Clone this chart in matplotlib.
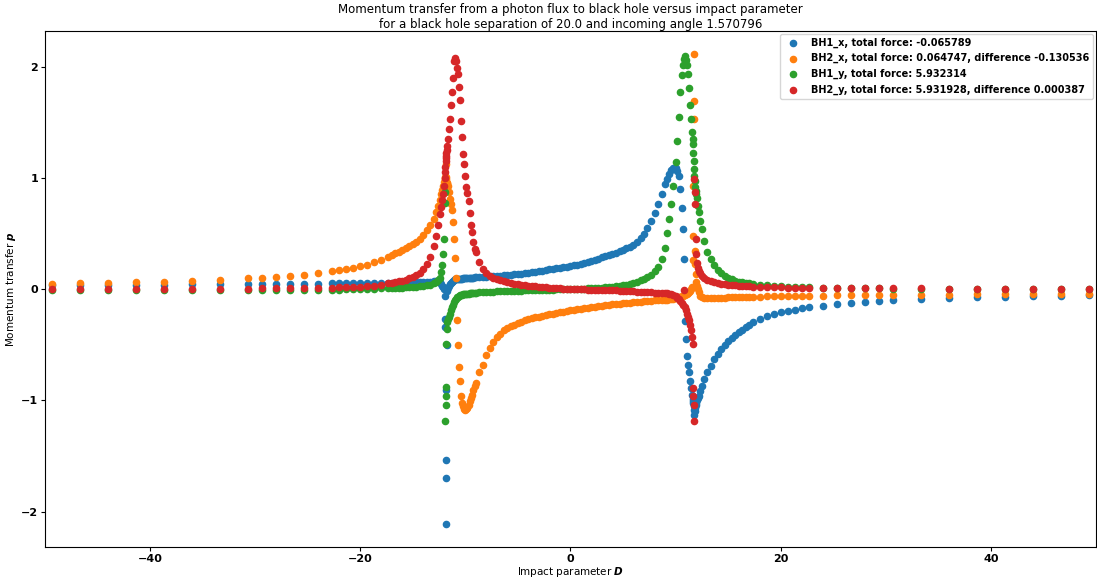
import numpy as np
import matplotlib
matplotlib.use("Agg")
import matplotlib.pyplot as plt

# impact parameters, coarse far away and refined around the two holes
d_outer_left = [-49.33, -46.67, -44.0, -41.33, -38.67, -36.0, -33.33, -30.67, -29.33, -28.0, -26.67,
                -25.33, -24.0, -22.67, -22.0, -21.33, -20.67, -20.0, -19.33, -18.67, -18.0]
d_near_left = [-17.33, -17.0, -16.67, -16.33, -16.0, -15.67, -15.33, -15.0, -14.67, -14.33, -14.0,
               -13.67, -13.33, -13.0]
d_spike_left = [-12.8, -12.6, -12.45, -12.3, -12.2, -12.1, -12.02, -11.96, -11.92, -11.89, -11.87,
                -11.85, -11.83, -11.81, -11.78, -11.74, -11.68, -11.6, -11.5, -11.4, -11.3, -11.2,
                -11.1, -11.0, -10.9, -10.8, -10.7, -10.6, -10.5, -10.4]
d_middle = [-10.3, -10.2, -10.1, -10.0, -9.9, -9.8, -9.7, -9.6, -9.5, -9.4, -9.25, -9.1, -9.0,
            -8.67, -8.33, -8.0, -7.67, -7.33, -7.0, -6.67,
            -6.33, -6.0, -5.67, -5.33, -5.0, -4.67, -4.33, -4.0, -3.67, -3.33, -3.0, -2.67, -2.33,
            -2.0, -1.67, -1.33, -1.0, -0.67, -0.33, 0.0, 0.33, 0.67, 1.0, 1.33, 1.67, 2.0, 2.33,
            2.67, 3.0, 3.33, 3.67, 4.0, 4.33, 4.67, 5.0, 5.33, 5.67, 6.0, 6.33, 6.67, 7.0, 7.33,
            7.67, 8.0, 8.33, 8.67, 9.0]
d_spike_right = [9.2, 9.4, 9.6, 9.8, 10.0, 10.15, 10.3, 10.45, 10.6, 10.7, 10.8, 10.9, 11.0, 11.1,
                 11.2, 11.3, 11.4, 11.5, 11.56, 11.62, 11.66, 11.7, 11.73, 11.76, 11.79, 11.82,
                 11.86, 11.9, 11.95, 12.0, 12.1, 12.2, 12.35, 12.5, 12.7]
d_near_right = [13.0, 13.33, 13.67, 14.0, 14.33, 14.67, 15.0, 15.33, 15.67, 16.0, 16.33, 16.67, 17.0]
d_outer_right = [17.33, 18.0, 18.67, 19.33, 20.0, 20.67, 21.33, 22.0, 22.67, 24.0, 25.33, 26.67,
                 28.0, 29.33, 30.67, 33.33, 36.0, 38.67, 41.33, 44.0, 46.67, 49.33]

D = np.array(d_outer_left + d_near_left + d_spike_left + d_middle
             + d_spike_right + d_near_right + d_outer_right)

bh1_x = [
    0.036, 0.037, 0.038, 0.039, 0.040, 0.041, 0.042, 0.044, 0.045, 0.046, 0.047, 0.048, 0.049,
    0.050, 0.051, 0.051, 0.052, 0.053, 0.054, 0.055, 0.056,
    0.056, 0.057, 0.057, 0.058, 0.058, 0.059, 0.060, 0.060, 0.061, 0.062, 0.063, 0.064, 0.066, 0.068,
    0.070, 0.070, 0.062, 0.045, 0.030, 0.015, 0.000, -0.066, -0.270, -0.345, -0.910, -1.540,
    -2.110, -1.700, -0.500, -0.020, 0.010, 0.030, 0.045, 0.055, 0.065, 0.074, 0.082, 0.086,
    0.088, 0.089, 0.090, 0.091, 0.092, 0.093,
    0.094, 0.095, 0.096, 0.097, 0.098, 0.099, 0.100, 0.100, 0.101, 0.102, 0.103, 0.104, 0.105,
    0.107, 0.109, 0.111, 0.113, 0.116, 0.119, 0.121,
    0.124, 0.126, 0.129, 0.132, 0.135, 0.139, 0.143, 0.147, 0.151, 0.156, 0.161, 0.166, 0.171,
    0.176, 0.181, 0.186, 0.191, 0.196, 0.201, 0.206, 0.212, 0.219, 0.226, 0.234, 0.243, 0.252,
    0.262, 0.273, 0.284, 0.296, 0.306, 0.316, 0.328, 0.340, 0.352, 0.365, 0.380, 0.400, 0.425,
    0.455, 0.495, 0.545, 0.610, 0.680, 0.760, 0.850, 0.940,
    0.990, 1.035, 1.070, 1.090, 1.085, 1.065, 1.020, 0.900, 0.730, 0.540, 0.270, -0.285, -0.450,
    -0.600, -0.680, -0.750, -0.826, -0.886, -0.955, -0.985, -1.005, -1.020, -1.050, -1.090,
    -1.130, -1.100, -1.070, -1.045, -1.020, -1.000, -0.980, -0.960, -0.915, -0.870, -0.810,
    -0.750, -0.690, -0.630, -0.580, -0.540, -0.500, -0.470, -0.440, -0.415, -0.390, -0.365,
    -0.345, -0.320,
    -0.295, -0.270, -0.246, -0.225, -0.210, -0.198, -0.186, -0.174, -0.165, -0.150, -0.135,
    -0.126, -0.114, -0.108, -0.100, -0.090, -0.080, -0.075, -0.069, -0.065, -0.060, -0.055,
]

bh2_x = [
    0.045, 0.051, 0.054, 0.060, 0.066, 0.075, 0.084, 0.096, 0.102, 0.108, 0.117, 0.129, 0.147,
    0.165, 0.171, 0.180, 0.189, 0.204, 0.219, 0.240, 0.261,
    0.291, 0.305, 0.320, 0.335, 0.350, 0.368, 0.385, 0.405, 0.425, 0.450, 0.485, 0.530, 0.575, 0.630,
    0.690, 0.750, 0.800, 0.850, 0.890, 0.930, 0.965, 0.985, 0.995, 1.005, 1.120, 1.010, 0.990,
    0.970, 0.950, 0.950, 0.930, 0.870, 0.810, 0.760, 0.710, 0.600, 0.450, 0.280, 0.100, -0.280,
    -0.500, -0.700, -0.830, -0.960,
    -1.020, -1.055, -1.075, -1.085, -1.080, -1.065, -1.040, -1.010, -0.980, -0.950, -0.910,
    -0.870, -0.840, -0.750, -0.680, -0.590, -0.530, -0.480, -0.430, -0.400,
    -0.370, -0.350, -0.335, -0.320, -0.305, -0.293, -0.282, -0.272, -0.263,
    -0.255, -0.247, -0.240, -0.233, -0.226, -0.220, -0.214, -0.208, -0.202, -0.196, -0.190,
    -0.185, -0.180, -0.175, -0.170, -0.166, -0.162, -0.158, -0.154, -0.150, -0.146, -0.142,
    -0.138, -0.135, -0.132, -0.129, -0.126, -0.123, -0.120, -0.117, -0.114, -0.111, -0.108,
    -0.105, -0.102, -0.100, -0.098, -0.096,
    -0.094, -0.092, -0.089, -0.085, -0.081, -0.078, -0.075, -0.071, -0.066, -0.062, -0.057,
    -0.052, -0.047, -0.042, -0.036, -0.027, -0.015, 0.000, 0.015, 0.260, 0.480, 0.930, 1.530,
    2.110, 1.690, 0.345, 0.225, 0.135, 0.060, 0.030, 0.000, -0.030, -0.060, -0.075, -0.080,
    -0.080, -0.080, -0.079, -0.078, -0.077, -0.076, -0.075, -0.074, -0.073, -0.072, -0.071,
    -0.070, -0.069,
    -0.068, -0.067, -0.066, -0.065, -0.064, -0.063, -0.062, -0.061, -0.060, -0.058, -0.057,
    -0.056, -0.055, -0.054, -0.053, -0.051, -0.050, -0.048, -0.047, -0.046, -0.045, -0.044,
]

bh1_y = [
    -0.006, -0.006, -0.006, -0.006, -0.006, -0.006, -0.006, -0.006, -0.006, -0.006, -0.006,
    -0.006, -0.005, -0.005, -0.005, -0.004, -0.003, -0.002, 0.000, 0.002, 0.005,
    0.008, 0.010, 0.011, 0.012, 0.013, 0.014, 0.016, 0.018, 0.020, 0.023, 0.027, 0.032, 0.040, 0.050,
    0.062, 0.080, 0.100, 0.150, 0.220, 0.315, 0.450, 0.770, 0.870, -1.186, -1.045, -0.960,
    -0.877, -0.495, -0.360, -0.300, -0.270, -0.255, -0.220, -0.190, -0.160, -0.140, -0.120,
    -0.100, -0.087, -0.075, -0.067, -0.060, -0.055, -0.052,
    -0.050, -0.048, -0.047, -0.045, -0.044, -0.043, -0.042, -0.040, -0.039, -0.038, -0.036,
    -0.035, -0.034, -0.031, -0.029, -0.027, -0.025, -0.023, -0.021, -0.020,
    -0.019, -0.018, -0.017, -0.016, -0.015, -0.014, -0.013, -0.012, -0.011,
    -0.010, -0.009, -0.008, -0.007, -0.006, -0.005, -0.004, -0.003, -0.002, -0.001, 0.000,
    0.001, 0.002, 0.003, 0.004, 0.005, 0.006, 0.008, 0.010, 0.012, 0.014, 0.017, 0.020, 0.024,
    0.028, 0.033, 0.040, 0.048, 0.057, 0.066, 0.077, 0.090, 0.107, 0.128, 0.160, 0.200, 0.270,
    0.370,
    0.500, 0.630, 0.760, 0.930, 1.140, 1.330, 1.550, 1.770, 1.920, 2.010, 2.070, 2.090, 2.060,
    2.010, 1.930, 1.810, 1.650, 1.530, 1.410, 1.350, 1.300, 1.220, 1.150, 1.080, 1.020, 0.970,
    0.920, 0.880, 0.850, 0.820, 0.750, 0.690, 0.610, 0.540, 0.430,
    0.330, 0.270, 0.220, 0.175, 0.145, 0.120, 0.100, 0.088, 0.075, 0.066, 0.060, 0.055, 0.050,
    0.047, 0.040, 0.035, 0.030, 0.026, 0.022, 0.019, 0.016, 0.014, 0.010, 0.008, 0.007, 0.006,
    0.005, 0.004, 0.003, 0.003, 0.002, 0.002, 0.002, 0.001, 0.001,
]

bh2_y = [
    0.000, 0.000, 0.000, 0.001, 0.001, 0.002, 0.003, 0.004, 0.005, 0.006, 0.007, 0.009, 0.011,
    0.013, 0.015, 0.017, 0.019, 0.022, 0.026, 0.031, 0.038,
    0.050, 0.056, 0.062, 0.068, 0.075, 0.083, 0.095, 0.110, 0.125, 0.148, 0.182, 0.225, 0.290, 0.390,
    0.480, 0.580, 0.670, 0.740, 0.800, 0.850, 0.930, 1.000, 1.050, 1.100, 1.150, 1.180, 1.200,
    1.220, 1.250, 1.290, 1.350, 1.440, 1.530, 1.650, 1.770, 1.900, 2.050, 2.080, 2.050, 1.990,
    1.930, 1.820, 1.700, 1.510,
    1.370, 1.210, 1.120, 1.020, 0.920, 0.860, 0.790, 0.680, 0.580, 0.510, 0.420, 0.360, 0.330,
    0.240, 0.180, 0.145, 0.118, 0.100, 0.087, 0.077,
    0.068, 0.061, 0.055, 0.049, 0.044, 0.039, 0.035, 0.031, 0.027, 0.023, 0.020, 0.017, 0.014,
    0.012, 0.010, 0.008, 0.006, 0.004, 0.002, 0.000, -0.001, -0.002, -0.003, -0.004, -0.005,
    -0.006, -0.007, -0.008, -0.009, -0.010, -0.011, -0.012, -0.013, -0.014, -0.015, -0.017,
    -0.019, -0.021, -0.023, -0.025, -0.027, -0.029, -0.031, -0.033, -0.034, -0.035, -0.036,
    -0.038, -0.041, -0.046, -0.054, -0.065, -0.078, -0.090, -0.105, -0.122, -0.140, -0.005,
    -0.165, -0.190, -0.220, -0.250, -0.280, -0.320, -0.370, -0.430, -0.495, -0.886, -0.960,
    -1.045, -1.186, 0.990, 0.870, 0.760, 0.450, 0.315, 0.234, 0.190, 0.165, 0.140, 0.120, 0.100,
    0.085, 0.072, 0.062, 0.055, 0.049, 0.044, 0.040, 0.036, 0.033, 0.030, 0.028, 0.026, 0.024,
    0.022, 0.020, 0.018, 0.016, 0.015, 0.013, 0.012, 0.011, 0.010, 0.009, 0.008, 0.007, 0.006,
    0.006, 0.005, 0.005, 0.004, 0.004, 0.004, 0.003, 0.003, 0.003,
]

labels = [
    "BH1_x, total force: -0.065789",
    "BH2_x, total force: 0.064747, difference -0.130536",
    "BH1_y, total force: 5.932314",
    "BH2_y, total force: 5.931928, difference 0.000387",
]

fig = plt.figure(figsize=(10.97, 5.81), dpi=100)
ax = fig.add_axes([0.041, 0.058, 0.958, 0.889])

for series, lab in zip([bh1_x, bh2_x, bh1_y, bh2_y], labels):
    ax.scatter(D, series, s=20, label=lab)

ax.set_xlim(-50, 50)
ax.set_title("Momentum transfer from a photon flux to black hole versus impact parameter\n"
             "for a black hole separation of 20.0 and incoming angle 1.570796",
             fontsize=8.5, pad=1.8)
ax.set_xlabel(r"Impact parameter $\boldsymbol{D}$", fontsize=7.5, labelpad=0.5)
ax.set_ylabel(r"Momentum transfer $\boldsymbol{p}$", fontsize=7.5, labelpad=2)
ax.tick_params(labelsize=8, length=3, pad=1.8)
for t in ax.get_xticklabels() + ax.get_yticklabels():
    t.set_fontweight("bold")

ax.legend(loc="upper right", prop={"weight": "bold", "size": 7}, labelspacing=0.55,
          borderaxespad=0.3)

fig.savefig("out.png", dpi=100)
